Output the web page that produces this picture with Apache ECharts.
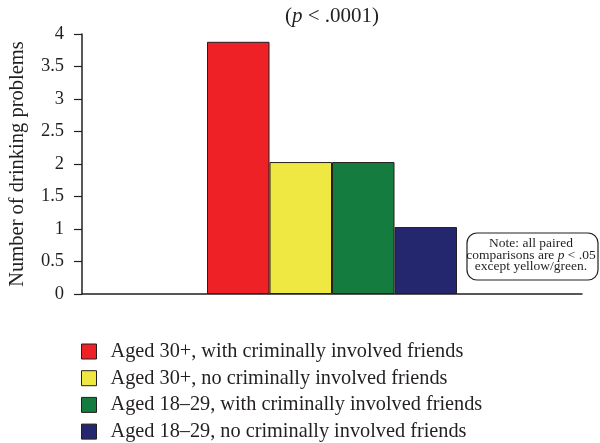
<!DOCTYPE html>
<html>
<head>
<meta charset="utf-8">
<script src="https://cdn.jsdelivr.net/npm/echarts@6/dist/echarts.min.js"></script>
<style>html,body{margin:0;padding:0;background:#fff;}#c{width:600px;height:443px;}</style>
</head>
<body>
<div id="c"></div>
<script>
// ---- data ----
var slots = ['', '', 'g1', 'g2', 'g3', 'g4', '', ''];
var groupNames = [
  'Aged 30+, with criminally involved friends',
  'Aged 30+, no criminally involved friends',
  'Aged 18\u201329, with criminally involved friends',
  'Aged 18\u201329, no criminally involved friends'
];
var groupValues = [3.88, 2.03, 2.03, 1.03];
var groupSlot = [2, 3, 4, 5];
var yTicks = [0, 0.5, 1, 1.5, 2, 2.5, 3, 3.5, 4];

// ---- styles ----
var colors = ['#ED2126', '#EFE843', '#147C3F', '#25276E'];
var FONT = 'Liberation Serif';

var series = groupNames.map(function (name, i) {
  var d = slots.map(function () { return null; });
  d[groupSlot[i]] = groupValues[i];
  return {
    name: name,
    type: 'bar',
    data: d,
    barWidth: '100%',
    barGap: '-100%',
    itemStyle: { color: colors[i], borderColor: '#231F20', borderWidth: 1 },
    emphasis: { disabled: true }
  };
});

var chart = echarts.init(document.getElementById('c'), null, { renderer: 'canvas' });
chart.setOption({
  animation: false,
  backgroundColor: '#fff',
  color: colors,
  grid: { left: 82, right: 18, top: 34, bottom: 149, containLabel: false, outerBoundsMode: 'none' },
  xAxis: {
    type: 'category',
    data: slots,
    boundaryGap: true,
    axisLine: { lineStyle: { color: '#231F20', width: 1.5 } },
    axisTick: { show: false },
    axisLabel: { show: false },
    splitLine: { show: false }
  },
  yAxis: {
    type: 'value',
    min: yTicks[0],
    max: yTicks[yTicks.length - 1],
    interval: 0.5,
    name: 'Number of drinking problems',
    nameLocation: 'middle',
    nameGap: 54,
    nameTextStyle: { fontFamily: FONT, fontSize: 20.5, color: '#231F20' },
    axisLine: { show: true, lineStyle: { color: '#231F20', width: 1.5 } },
    axisTick: { show: true, inside: false, length: 8, lineStyle: { color: '#231F20', width: 1.2 } },
    axisLabel: { fontFamily: FONT, fontSize: 18.5, color: '#231F20', margin: 18 },
    splitLine: { show: false }
  },
  legend: {
    orient: 'vertical',
    left: 81,
    top: 341.5,
    height: 160,
    padding: 0,
    itemWidth: 15,
    itemHeight: 15,
    itemGap: 6.7,
    icon: 'rect',
    data: groupNames,
    itemStyle: { borderColor: '#231F20', borderWidth: 1 },
    textStyle: { fontFamily: FONT, fontSize: 20.3, color: '#231F20', padding: [0, 0, 0, 9] },
    selectedMode: false
  },
  graphic: [
    {
      type: 'text',
      x: 332,
      y: 16,
      style: {
        text: '{a|(}{b|p}{a| < .0001)}',
        align: 'center',
        verticalAlign: 'middle',
        rich: {
          a: { fontFamily: FONT, fontSize: 21, fill: '#231F20' },
          b: { fontFamily: FONT, fontSize: 21, fontStyle: 'italic', fill: '#231F20' }
        }
      }
    },
    {
      type: 'rect',
      shape: { x: 467, y: 233, width: 131, height: 47, r: 10 },
      style: { fill: '#fff', stroke: '#231F20', lineWidth: 1.2 }
    },
    {
      type: 'text',
      x: 531,
      y: 255,
      style: {
        text: '{a|Note: all paired}\n{a|comparisons are }{b|p}{a| < .05}\n{a|except yellow/green.}',
        align: 'center',
        verticalAlign: 'middle',
        rich: {
          a: { fontFamily: FONT, fontSize: 13.5, lineHeight: 11.5, fill: '#231F20' },
          b: { fontFamily: FONT, fontSize: 13.5, lineHeight: 11.5, fontStyle: 'italic', fill: '#231F20' }
        }
      }
    }
  ],
  series: series
});
</script>
</body>
</html>
